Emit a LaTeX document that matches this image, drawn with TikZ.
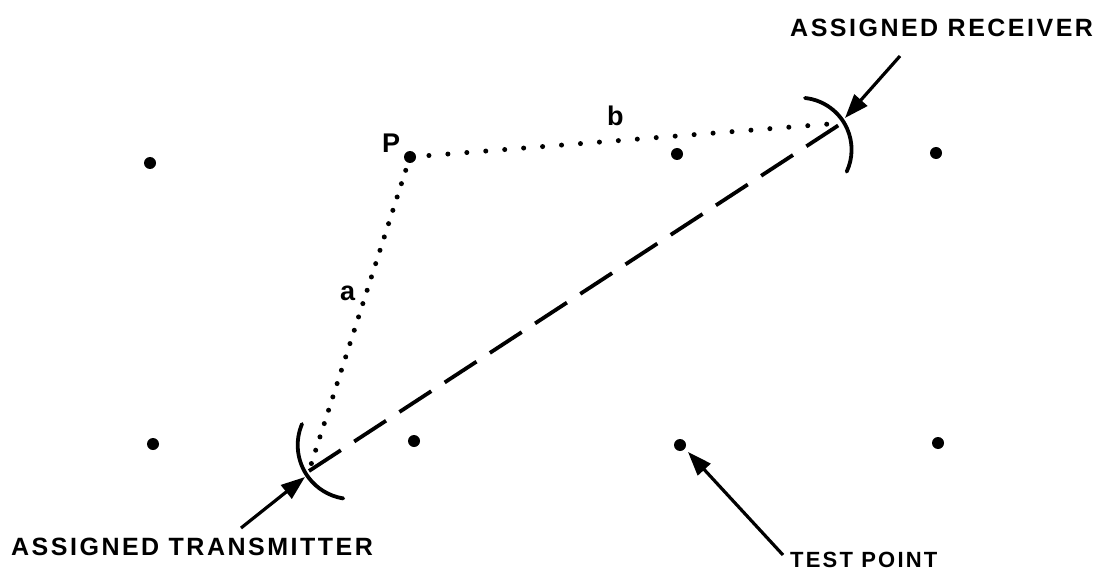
\documentclass[tikz,border=0pt]{standalone}
\usepackage{fontspec}
\setmainfont{Liberation Sans}
\newfontfamily\labfont{Liberation Sans}[LetterSpace=10]
\usetikzlibrary{arrows.meta}
\begin{document}
\begin{tikzpicture}[x=1pt,y=-1pt,
  gridpt/.style={circle,fill=black,inner sep=0pt,minimum size=12pt},
  lab/.style={inner sep=0pt,font=\labfont\bfseries\fontsize{25}{25}\selectfont},
  smalllab/.style={inner sep=0pt,font=\labfont\bfseries\fontsize{22}{22}\selectfont},
  letter/.style={inner sep=0pt,font=\bfseries\fontsize{27}{27}\selectfont},
  dotline/.style={line width=5pt,line cap=round,dash pattern=on 0pt off #1},
  dashline/.style={line width=3.8pt,dash pattern=on 38pt off 16pt},
  arcline/.style={line width=3.8pt,line cap=round},
  pointer/.style={line width=3.2pt,-{Triangle[length=24pt,width=17pt]}}
]
\useasboundingbox (0,0) rectangle (1107,572);
% grid points
\node[gridpt] (d1) at (150,163) {};
\node[gridpt] (p)  at (410,157) {};
\node[gridpt] (d3) at (677,154) {};
\node[gridpt] (d4) at (936,153) {};
\node[gridpt] (d5) at (153,444) {};
\node[gridpt] (d6) at (414,441) {};
\node[gridpt] (tp) at (680,445) {};
\node[gridpt] (d8) at (938,443) {};
% transmitter / receiver points
\coordinate (T) at (309,471);
\coordinate (R) at (842,123);
% dotted paths
\draw[dotline=14pt] (p.center) -- (T);
\draw[dotline=19pt] (p.center) -- (R);
% dashed line
\draw[dashline] (T) -- (R);
% arcs
\draw[arcline] (805,98) arc[start angle=-84, end angle=25, radius=52];
\draw[arcline] (302,424) arc[start angle=203, end angle=99, radius=54];
% labels
\node[letter,anchor=base west] (plab) at (382,153) {P};
\node[letter,anchor=base west] (alab) at (340,300) {a};
\node[letter,anchor=base west] (blab) at (607,126) {b};
\node[lab,anchor=base west] (rx) at (790,37) {ASSIGNED RECEIVER};
\node[lab,anchor=base west] (tx) at (11,555) {ASSIGNED TRANSMITTER};
\node[smalllab,anchor=base west] (tpl) at (790,567) {TEST POINT};
% pointer arrows
\coordinate (rxtail) at (900,56);
\coordinate (rxtip) at (845,118);
\coordinate (txtail) at (241,528);
\coordinate (txtip) at (305,477);
\coordinate (tptail) at (783,555);
\coordinate (tptip) at (688,452);
\draw[pointer] (rxtail) -- (rxtip);
\draw[pointer] (txtail) -- (txtip);
\draw[pointer] (tptail) -- (tptip);
\end{tikzpicture}
\end{document}
